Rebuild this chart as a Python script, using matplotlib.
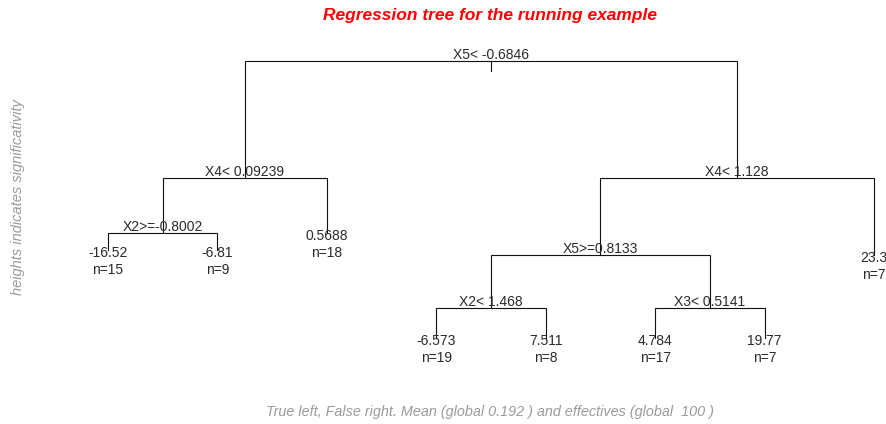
"""Regression tree for the running example (rpart-style, heights = significance)."""

import matplotlib

matplotlib.use("Agg")
import matplotlib.pyplot as plt

plt.rcParams["font.family"] = ["Liberation Sans", "DejaVu Sans"]

INK = "#2a2a2a"
LINE = "#111111"
GREY = "#9a9a9a"
RED = "#ff0000"

# tree in rpart node numbering (children of k are 2k and 2k+1)
NODE_ID = [1, 2, 4, 8, 9, 5, 3, 6, 12, 24, 25, 13, 26, 27, 7]
SPLIT = {1: "X5< -0.6846", 2: "X4< 0.09239", 4: "X2>=-0.8002",
         3: "X4< 1.128", 6: "X5>=0.8133", 12: "X2< 1.468", 13: "X3< 0.5141"}
LEAF_MEAN = {8: "-16.52", 9: "-6.81", 5: "0.5688", 24: "-6.573",
             25: "7.511", 26: "4.784", 27: "19.77", 7: "23.3"}
LEAF_N = {8: 15, 9: 9, 5: 18, 24: 19, 25: 8, 26: 17, 27: 7, 7: 7}
# node heights (deviance scale, root = 1)
HEIGHT = {1: 1.0, 2: 0.577, 3: 0.577, 4: 0.379, 5: 0.379, 6: 0.299, 7: 0.299,
          8: 0.317, 9: 0.317, 12: 0.108, 13: 0.108,
          24: 0.0, 25: 0.0, 26: 0.0, 27: 0.0}


def layout():
    # leaves evenly spaced in preorder, parents at midpoint of children
    xs = {}
    leaves = [k for k in NODE_ID if k in LEAF_MEAN]
    for i, k in enumerate(leaves):
        xs[k] = i + 1
    for k in sorted(SPLIT, reverse=True):
        xs[k] = (xs[2 * k] + xs[2 * k + 1]) / 2
    return xs


def main():
    fig = plt.figure(figsize=(8.86, 4.24), dpi=100, facecolor="white")
    ax = fig.add_axes([0, 0, 1, 1])
    ax.set_axis_off()
    ax.set_xlim(0.0131, 8.1095)
    ax.set_ylim(-0.3101, 1.2189)

    xs = layout()
    for k in SPLIT:
        y = HEIGHT[k]
        for c in (2 * k, 2 * k + 1):
            ax.plot([xs[k], xs[c], xs[c]], [y, y, HEIGHT[c]],
                    color=LINE, lw=0.8, solid_joinstyle="miter")
        ax.annotate(SPLIT[k], (xs[k], y), textcoords="offset points",
                    xytext=(0, 1.3), ha="center", va="baseline",
                    color=INK, fontsize=10)
    # short stem under the root
    ax.plot([xs[1], xs[1]], [HEIGHT[1], HEIGHT[1] - 0.038], color=LINE, lw=0.8)

    for k in LEAF_MEAN:
        ax.annotate(LEAF_MEAN[k], (xs[k], HEIGHT[k]), textcoords="offset points",
                    xytext=(0, -5), ha="center", va="baseline",
                    color=INK, fontsize=10)
        ax.annotate(f"n={LEAF_N[k]}", (xs[k], HEIGHT[k]),
                    textcoords="offset points", xytext=(0, -17.3),
                    ha="center", va="baseline", color=INK, fontsize=10)

    fig.text(0.553, 0.964, "Regression tree for the running example",
             color=RED, fontsize=12.5, fontweight="bold", fontstyle="italic",
             ha="center", va="center")
    fig.text(0.0203, 0.535, "heights indicates significativity", color=GREY,
             fontsize=10.5, fontstyle="italic", rotation=90,
             ha="center", va="center")
    fig.text(0.553, 0.028,
             "True left, False right. Mean (global 0.192 ) and effectives "
             "(global  100 )", color=GREY, fontsize=10.4, fontstyle="italic",
             ha="center", va="center")

    fig.savefig("out.png", dpi=100, facecolor="white")
    plt.close(fig)


if __name__ == "__main__":
    main()
